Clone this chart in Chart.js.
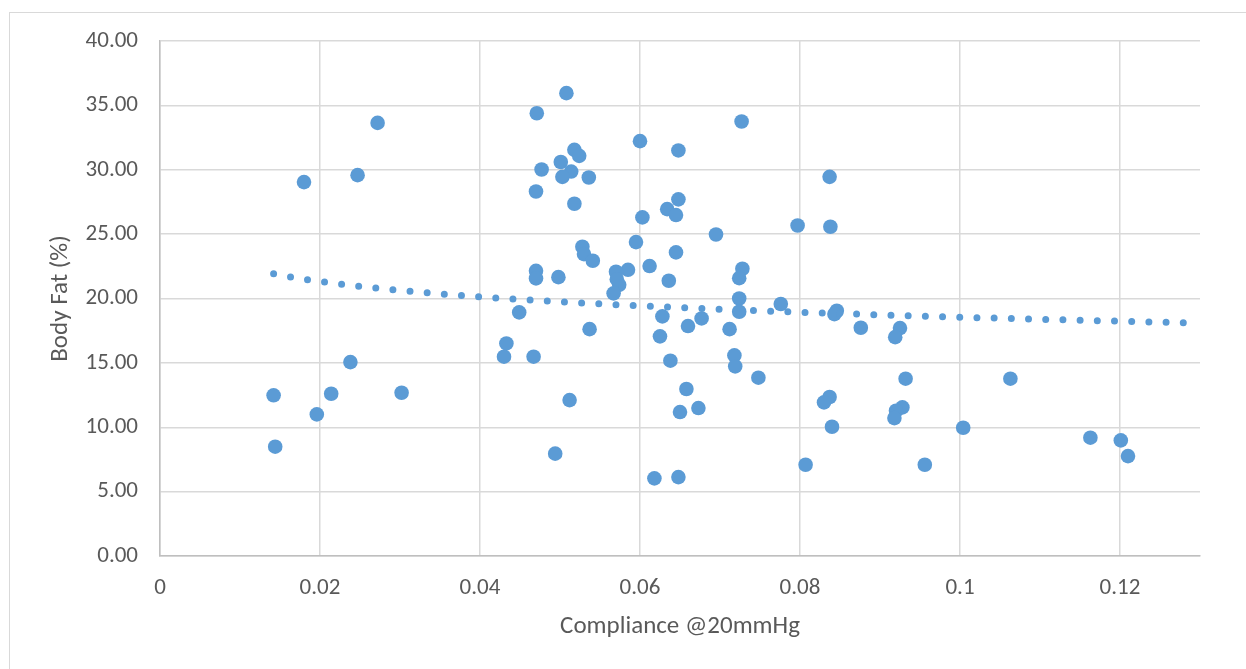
<!DOCTYPE html>
<html>
<head>
<meta charset="utf-8">
<script src="https://cdn.jsdelivr.net/npm/chart.js@4/dist/chart.umd.min.js"></script>
<style>
  html, body { margin: 0; padding: 0; background: #fff; overflow: hidden; }
  #wrap { position: relative; width: 1246px; height: 669px; }
  #frame { position: absolute; left: 9px; top: 12px; width: 1300px; height: 700px; border: 1.5px solid #d9d9d9; }
  #miGrafico { position: absolute; left: 0; top: 0; }
</style>
</head>
<body>
<div id="wrap">
  <div id="frame"></div>
  <canvas id="miGrafico" width="1246" height="669"></canvas>
</div>
<script>
// compliance @20mmHg (x) and body fat % (y)
var compliance = [
  0.0142, 0.0144, 0.0196, 0.0214, 0.0238, 0.0302, 0.0180, 0.0247, 0.0272, 0.0508,
  0.0471, 0.0600, 0.0727, 0.0648, 0.0518, 0.0524, 0.0501, 0.0477, 0.0514, 0.0503,
  0.0536, 0.0470, 0.0518, 0.0648, 0.0634, 0.0645, 0.0603, 0.0695, 0.0797, 0.0837,
  0.0838, 0.0595, 0.0528, 0.0530, 0.0541, 0.0645, 0.0612, 0.0585, 0.0570, 0.0470,
  0.0470, 0.0498, 0.0574, 0.0571, 0.0567, 0.0636, 0.0728, 0.0724, 0.0724, 0.0776,
  0.0449, 0.0537, 0.0433, 0.0430, 0.0467, 0.0512, 0.0494, 0.0628, 0.0660, 0.0677,
  0.0625, 0.0712, 0.0638, 0.0718, 0.0719, 0.0748, 0.0658, 0.0673, 0.0650, 0.0618,
  0.0648, 0.0807, 0.0724, 0.0846, 0.0843, 0.0876, 0.0925, 0.0919, 0.0932, 0.1063,
  0.0837, 0.0830, 0.0928, 0.0920, 0.0918, 0.0840, 0.1004, 0.1163, 0.1201, 0.1210,
  0.0956
];
var bodyFat = [
  12.48, 8.49, 11.00, 12.60, 15.06, 12.68, 29.04, 29.58, 33.64, 35.95,
  34.39, 32.22, 33.75, 31.50, 31.55, 31.08, 30.60, 30.02, 29.86, 29.45,
  29.40, 28.31, 27.36, 27.70, 26.94, 26.48, 26.30, 24.97, 25.67, 29.45,
  25.57, 24.38, 24.02, 23.45, 22.93, 23.58, 22.52, 22.23, 22.08, 22.15,
  21.56, 21.66, 21.06, 21.50, 20.40, 21.38, 22.31, 21.58, 20.00, 19.57,
  18.92, 17.62, 16.51, 15.48, 15.48, 12.11, 7.95, 18.61, 17.86, 18.45,
  17.06, 17.62, 15.17, 15.58, 14.73, 13.85, 12.97, 11.49, 11.18, 6.03,
  6.13, 7.09, 18.97, 19.05, 18.79, 17.73, 17.70, 17.00, 13.77, 13.77,
  12.35, 11.93, 11.54, 11.28, 10.71, 10.04, 9.96, 9.19, 8.98, 7.76,
  7.09
];
var xTicks = { min: 0, max: 0.13, step: 0.02 };
var yTicks = { min: 0, max: 40, step: 5 };

// log trendline y = a + b*ln(x), coefficients
var trendCoef = { a: 14.58, b: -1.724 };
var trendRange = [0.0142, 0.13];

var trend = [];
for (var k = 0; k <= 60; k++) {
  var xv = trendRange[0] + (trendRange[1] - trendRange[0]) * k / 60;
  trend.push({ x: xv, y: trendCoef.a + trendCoef.b * Math.log(xv) });
}

var puntos = compliance.map(function (c, i) { return { x: c, y: bodyFat[i] }; });

var fuente = "Carlito, Lato, 'Liberation Sans', sans-serif";
var gris = '#595959';

var ctx = document.getElementById('miGrafico');
var miGrafico = new Chart(ctx, {
  type: 'scatter',
  data: {
    datasets: [{
      type: 'line',
      label: 'Log. (Body Fat)',
      data: trend,
      borderColor: '#5b9bd5',
      borderWidth: 7,
      borderDash: [0, 17.2],
      borderCapStyle: 'round',
      pointRadius: 0,
      fill: false,
      tension: 0,
      order: 0
    }, {
      label: 'Body Fat (%)',
      data: puntos,
      backgroundColor: '#5b9bd5',
      borderColor: '#5b9bd5',
      borderWidth: 0,
      pointRadius: 7.3,
      pointHoverRadius: 7.3,
      order: 1
    }]
  },
  options: {
    responsive: false,
    animation: false,
    layout: { padding: { top: 41, right: 46, left: 0, bottom: 0 } },
    plugins: { legend: { display: false }, tooltip: { enabled: false } },
    scales: {
      x: {
        type: 'linear',
        min: xTicks.min,
        max: xTicks.max,
        afterFit: function (s) { s.height = 113; },
        ticks: {
          stepSize: xTicks.step,
          includeBounds: false,
          padding: 18,
          color: gris,
          font: { family: fuente, size: 23 },
          callback: function (v) { return String(+v.toFixed(2)); }
        },
        grid: { color: '#d9d9d9', lineWidth: 1.5, drawTicks: false },
        border: { color: '#bfbfbf', width: 1.5 },
        title: {
          display: true,
          text: 'Compliance @20mmHg',
          color: gris,
          font: { family: fuente, size: 25 },
          padding: { top: 0, bottom: 27 }
        }
      },
      y: {
        min: yTicks.min,
        max: yTicks.max,
        afterFit: function (s) { s.width = 160; },
        ticks: {
          stepSize: yTicks.step,
          padding: 22,
          color: gris,
          font: { family: fuente, size: 23 },
          callback: function (v) { return v.toFixed(2); }
        },
        grid: { color: '#d9d9d9', lineWidth: 1.5, drawTicks: false },
        border: { color: '#bfbfbf', width: 1.5 },
        title: {
          display: true,
          text: 'Body Fat (%)',
          color: gris,
          font: { family: fuente, size: 25 },
          padding: { top: 46, bottom: 0 }
        }
      }
    }
  }
});
</script>
</body>
</html>
